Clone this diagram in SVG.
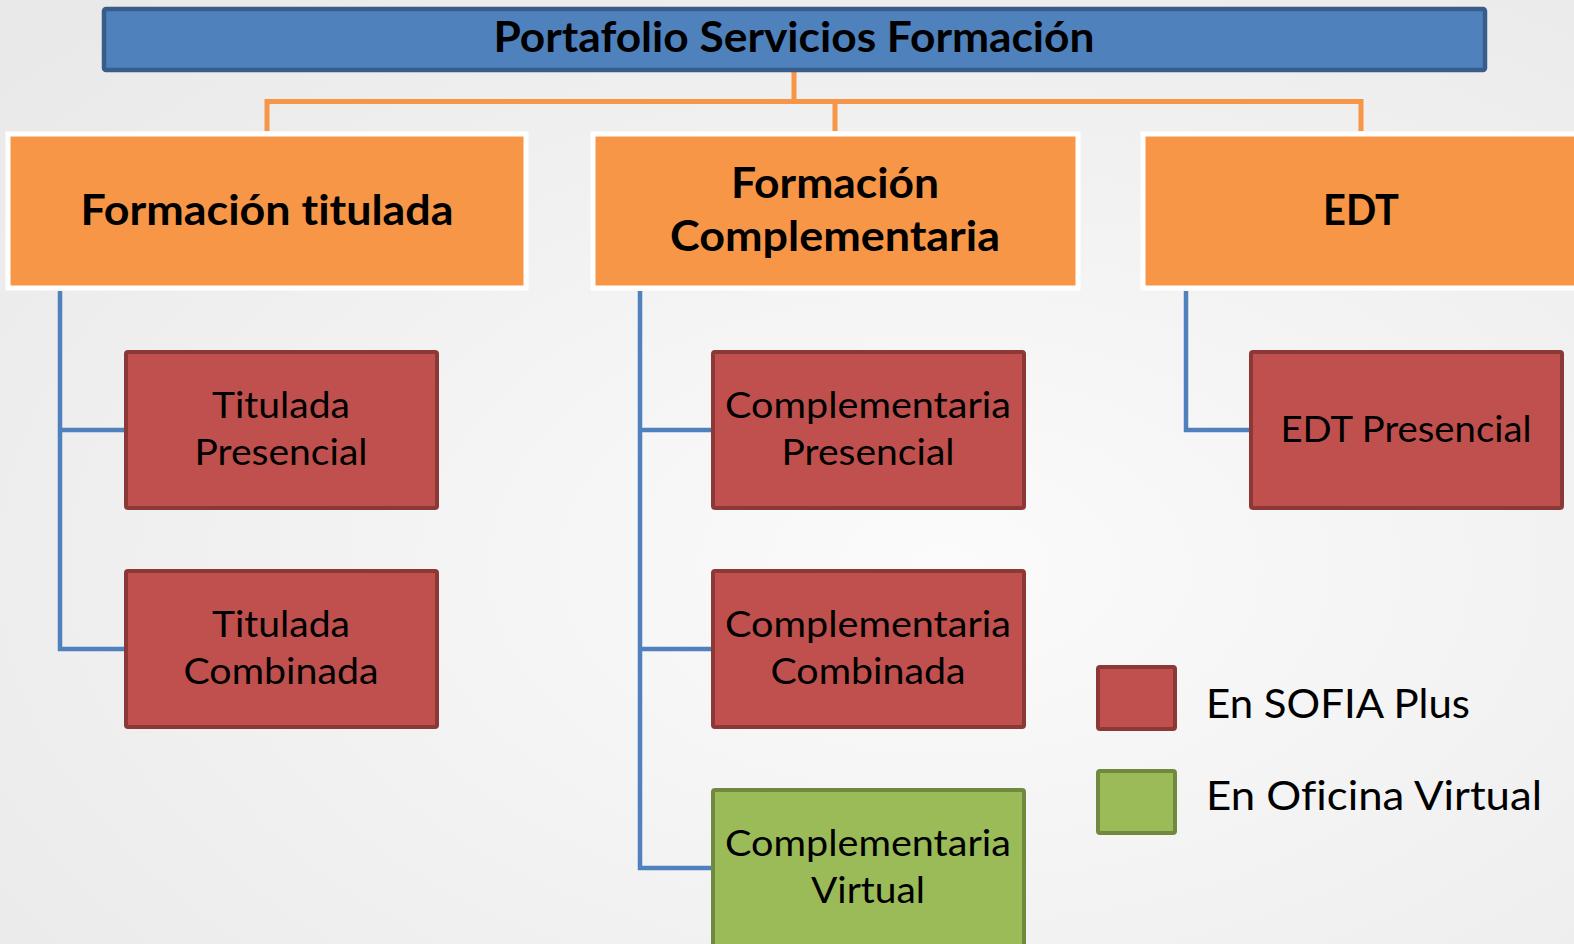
<svg xmlns="http://www.w3.org/2000/svg" width="1574" height="944" viewBox="0 0 1574 944">
<defs>
<radialGradient id="bg" cx="0.6" cy="0.6" r="0.8">
<stop offset="0" stop-color="#fbfbfb"/>
<stop offset="1" stop-color="#e9e9e9"/>
</radialGradient>
<style>
text{font-variant-ligatures:none;font-feature-settings:"liga" 0,"dlig" 0}
.title{fill:#4F81BD;stroke:#385D8A;stroke-width:4.5}
.cat{fill:#F79646;stroke:#ffffff;stroke-width:5}
.red{fill:#C0504D;stroke:#8C3836;stroke-width:4}
.green{fill:#9BBB59;stroke:#71893F;stroke-width:4}
.ol{fill:none;stroke:#F79646;stroke-width:5}
.bl{fill:none;stroke:#4F81BD;stroke-width:4.5}
.tb{font-family:Lato,"Open Sans",sans-serif;font-weight:bold;font-size:42px;fill:#000;text-anchor:middle}
.tr{font-family:Lato,"Open Sans",sans-serif;font-size:36px;fill:#000;text-anchor:middle}
.lg{font-family:Lato,"Open Sans",sans-serif;font-size:41px;fill:#000}
</style>
</defs>
<rect x="0" y="0" width="1574" height="944" fill="url(#bg)"/>
<g id="connectors">
<path class="ol" d="M794 70 V101.5 M267 131 V101.5 H1361 V131 M835 101.5 V131"/>
<path class="bl" d="M60 291 V649 H125 M60 430 H125"/>
<path class="bl" d="M640 291 V868 H713 M640 430 H713 M640 649 H713"/>
<path class="bl" d="M1186 291 V430 H1251"/>
</g>
<g id="n-portafolio">
<rect class="title" x="104" y="9" width="1381" height="61" rx="2"/>
<text class="tb" x="794" y="52" font-size="41" textLength="601" lengthAdjust="spacingAndGlyphs">Portafolio Servicios Formación</text>
</g>
<g id="n-titulada">
<rect class="cat" x="8" y="134" width="518" height="154"/>
<text class="tb" x="267" y="225" textLength="373" lengthAdjust="spacingAndGlyphs">Formación titulada</text>
</g>
<g id="n-complementaria">
<rect class="cat" x="593" y="134" width="485" height="154"/>
<text class="tb" x="835" y="198" textLength="208" lengthAdjust="spacingAndGlyphs">Formación</text>
<text class="tb" x="835" y="251" textLength="330" lengthAdjust="spacingAndGlyphs">Complementaria</text>
</g>
<g id="n-edt">
<rect class="cat" x="1143" y="134" width="440" height="154"/>
<text class="tb" x="1361" y="225" textLength="76" lengthAdjust="spacingAndGlyphs">EDT</text>
</g>
<g id="n-tit-presencial">
<rect class="red" x="126" y="352" width="311" height="156" rx="2"/>
<text class="tr" x="281" y="418" textLength="138" lengthAdjust="spacingAndGlyphs">Titulada</text>
<text class="tr" x="281" y="465" textLength="173" lengthAdjust="spacingAndGlyphs">Presencial</text>
</g>
<g id="n-tit-combinada">
<rect class="red" x="126" y="571" width="311" height="156" rx="2"/>
<text class="tr" x="281" y="637" textLength="138" lengthAdjust="spacingAndGlyphs">Titulada</text>
<text class="tr" x="281" y="684" textLength="195" lengthAdjust="spacingAndGlyphs">Combinada</text>
</g>
<g id="n-comp-presencial">
<rect class="red" x="713" y="352" width="311" height="156" rx="2"/>
<text class="tr" x="868" y="418" textLength="286" lengthAdjust="spacingAndGlyphs">Complementaria</text>
<text class="tr" x="868" y="465" textLength="173" lengthAdjust="spacingAndGlyphs">Presencial</text>
</g>
<g id="n-comp-combinada">
<rect class="red" x="713" y="571" width="311" height="156" rx="2"/>
<text class="tr" x="868" y="637" textLength="286" lengthAdjust="spacingAndGlyphs">Complementaria</text>
<text class="tr" x="868" y="684" textLength="195" lengthAdjust="spacingAndGlyphs">Combinada</text>
</g>
<g id="n-comp-virtual">
<rect class="green" x="713" y="790" width="311" height="160" rx="2"/>
<text class="tr" x="868" y="856" textLength="286" lengthAdjust="spacingAndGlyphs">Complementaria</text>
<text class="tr" x="868" y="903" textLength="114" lengthAdjust="spacingAndGlyphs">Virtual</text>
</g>
<g id="n-edt-presencial">
<rect class="red" x="1251" y="352" width="311" height="156" rx="2"/>
<text class="tr" x="1406" y="442" textLength="251" lengthAdjust="spacingAndGlyphs">EDT Presencial</text>
</g>
<g id="legend">
<rect class="red" x="1098" y="667" width="77" height="62" rx="2"/>
<rect class="green" x="1098" y="771" width="77" height="62" rx="2"/>
<text class="lg" x="1206" y="718" textLength="264" lengthAdjust="spacingAndGlyphs">En SOFIA Plus</text>
<text class="lg" x="1206" y="810" textLength="336" lengthAdjust="spacingAndGlyphs">En Oficina Virtual</text>
</g>
</svg>
